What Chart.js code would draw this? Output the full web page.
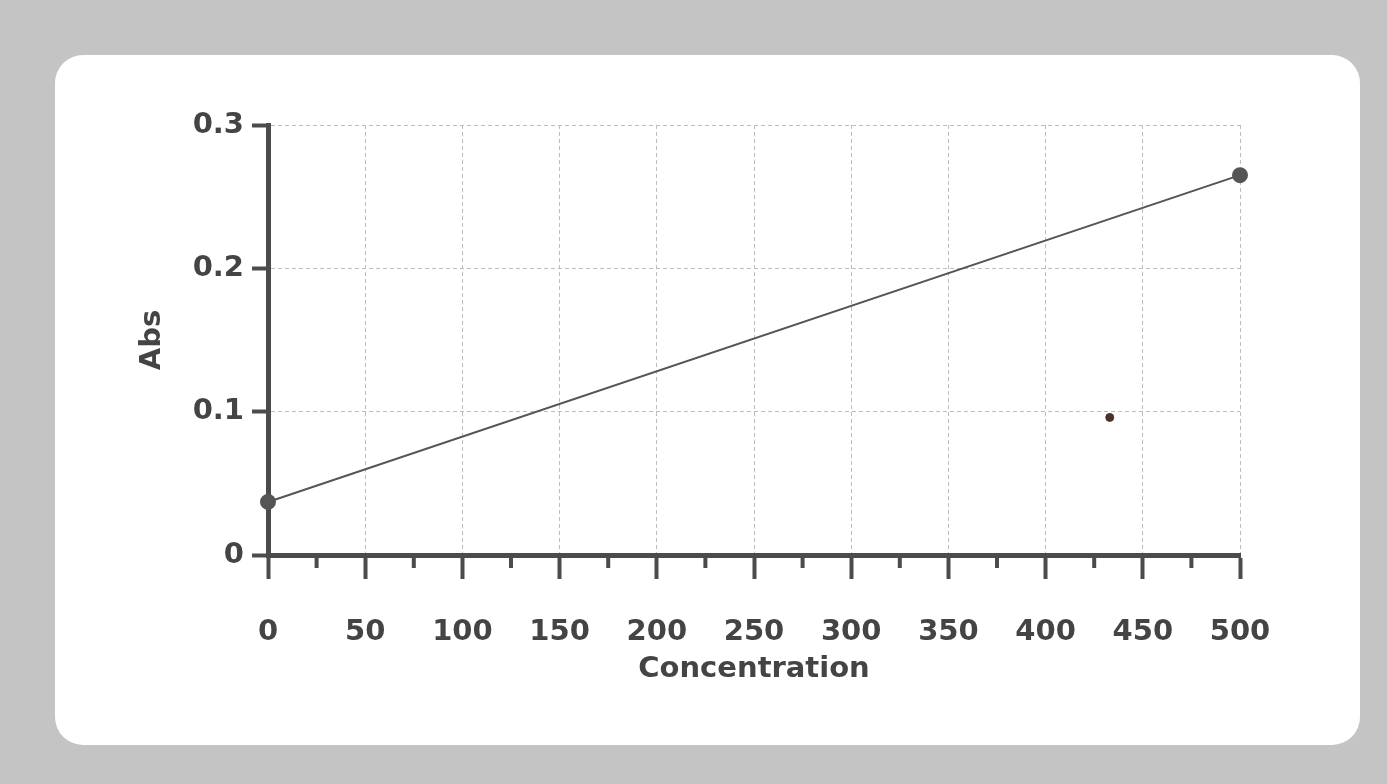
<!DOCTYPE html>
<html>
<head>
<meta charset="utf-8">
<script src="https://cdn.jsdelivr.net/npm/chart.js@4.4.0/dist/chart.umd.min.js"></script>
<style>
  html, body { margin: 0; padding: 0; }
  body { width: 1387px; height: 784px; background: #c4c4c4; position: relative; overflow: hidden; }
  #card { position: absolute; left: 55px; top: 55px; width: 1305px; height: 690px; background: #fff; border-radius: 28px; }
  #chart { position: absolute; left: 0; top: 0; }
</style>
</head>
<body>
<div id="card"><canvas id="chart" width="1305" height="690"></canvas></div>
<script>
// dane wykresu
const concentration = [0, 500];
const absorbance = [0.037, 0.265];
const strayX = [433];
const strayY = [0.096];
const xTicks = [0, 50, 100, 150, 200, 250, 300, 350, 400, 450, 500];
const yTicks = [0, 0.1, 0.2, 0.3];

const axisColor = '#4b4b4b';
const textColor = '#444';
const tickFont = { family: 'DejaVu Sans, Verdana, sans-serif', weight: 'bold', size: 29 };
const titleFont = { family: 'DejaVu Sans, Verdana, sans-serif', weight: 'bold', size: 29 };

// małe podziałki co 25 na osi X
const minorTicks = {
    id: 'minorTicks',
    afterDraw(chart) {
        const x = chart.scales.x;
        const ctx = chart.ctx;
        ctx.save();
        ctx.strokeStyle = axisColor;
        ctx.lineWidth = 4;
        for (let v = 25; v < 500; v += 50) {
            const px = x.getPixelForValue(v);
            ctx.beginPath();
            ctx.moveTo(px, x.top);
            ctx.lineTo(px, x.top + 13);
            ctx.stroke();
        }
        ctx.restore();
    }
};

new Chart(document.getElementById('chart'), {
    type: 'scatter',
    data: {
        datasets: [{
            data: concentration.map((c, i) => ({ x: c, y: absorbance[i] })),
            showLine: true,
            clip: false,
            borderColor: '#555',
            borderWidth: 2,
            pointRadius: 7,
            pointBackgroundColor: '#555',
            pointBorderColor: '#555'
        }, {
            data: strayX.map((c, i) => ({ x: c, y: strayY[i] })),
            pointRadius: 4,
            pointBackgroundColor: '#4a3228',
            pointBorderColor: '#4a3228'
        }]
    },
    options: {
        responsive: false,
        animation: false,
        layout: { padding: { top: 70, right: 120, left: 0, bottom: 0 } },
        plugins: { legend: { display: false }, tooltip: { enabled: false } },
        scales: {
            x: {
                type: 'linear',
                min: 0,
                max: 500,
                afterBuildTicks: s => { s.ticks = xTicks.map(v => ({ value: v })); },
                afterFit: s => { s.height = 190; },
                grid: { color: '#bdbdbd', lineWidth: 1, tickColor: axisColor, tickWidth: 4, tickLength: 24 },
                border: { display: true, color: axisColor, width: 5, dash: [4, 3] },
                ticks: { color: textColor, font: tickFont, padding: 36, maxRotation: 0, autoSkip: false },
                title: { display: true, text: 'Concentration', color: textColor, font: titleFont, padding: { top: 0, bottom: 58 } }
            },
            y: {
                type: 'linear',
                min: 0,
                max: 0.3,
                afterBuildTicks: s => { s.ticks = yTicks.map(v => ({ value: v })); },
                afterFit: s => { s.width = 213; },
                grid: { color: '#bdbdbd', lineWidth: 1, tickColor: axisColor, tickWidth: 4, tickLength: 16 },
                border: { display: true, color: axisColor, width: 5, dash: [4, 3] },
                ticks: { color: textColor, font: tickFont, padding: 8, callback: v => v === 0 ? '0' : v.toFixed(1) },
                title: { display: true, text: 'Abs', color: textColor, font: titleFont, padding: { top: 80, bottom: 80 } }
            }
        }
    },
    plugins: [minorTicks]
});
</script>
</body>
</html>
